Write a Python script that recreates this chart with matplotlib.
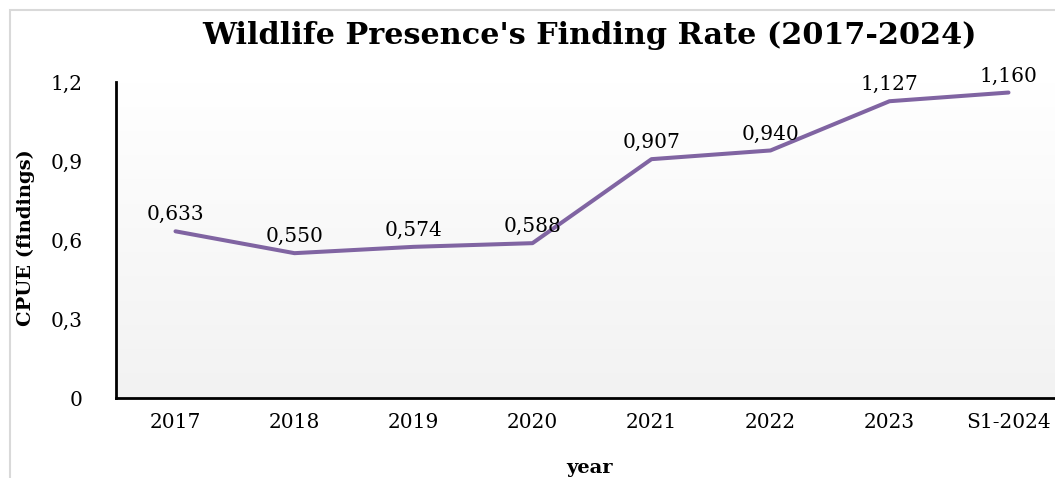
import matplotlib
matplotlib.use("Agg")
import matplotlib.pyplot as plt
import numpy as np
from matplotlib.patches import Rectangle

# 数据
years = ["2017", "2018", "2019", "2020", "2021", "2022", "2023", "S1-2024"]
cpue = [0.633, 0.550, 0.574, 0.588, 0.907, 0.940, 1.127, 1.160]
y_ticks = [0, 0.3, 0.6, 0.9, 1.2]
y_tick_labels = ["0", "0,3", "0,6", "0,9", "1,2"]

plt.rcParams['font.family'] = ['DejaVu Serif']

W, H = 1055, 478
fig = plt.figure(figsize=(W / 100, H / 100), dpi=100)

# 外框（浅灰色）
fig.patches.append(Rectangle((9.5 / W, -0.1), 1.2, 1 - 10.5 / H + 0.1,
                             transform=fig.transFigure, fill=False,
                             edgecolor='#d9d9d9', linewidth=1.5))

# 绘图区位置（右侧超出画布）
left, bottom = 116 / W, (H - 398) / H
width, height = 8 * 119 / W, (398 - 82) / H
ax = fig.add_axes([left, bottom, width, height])

x = np.arange(len(years))
ax.set_xlim(-0.5, len(years) - 0.5)
ax.set_ylim(0, 1.2)

# 渐变背景
grad = np.linspace(0, 1, 256).reshape(-1, 1)
ax.imshow(grad, cmap=matplotlib.colors.LinearSegmentedColormap.from_list(
    'g', ['#f2f2f2', '#ffffff']), aspect='auto', origin='lower',
    extent=(-0.5, len(years) - 0.5, 0, 1.2), zorder=0)

ax.plot(x, cpue, color='#8064A2', linewidth=2.9, solid_capstyle='round', zorder=3)

for xi, v in zip(x, cpue):
    ax.annotate(f"{v:.3f}".replace('.', ','), (xi, v), xytext=(0, 5),
                textcoords='offset points', ha='center', va='bottom',
                fontsize=14.5, zorder=4)

ax.set_xticks(x)
ax.set_xticklabels(years, fontsize=14.5)
ax.set_yticks(y_ticks)
ax.set_yticklabels(y_tick_labels, fontsize=14.5)
ax.tick_params(axis='both', length=0)
ax.tick_params(axis='x', pad=11)
ax.tick_params(axis='y', pad=24)

for s in ['top', 'right']:
    ax.spines[s].set_visible(False)
for s in ['left', 'bottom']:
    ax.spines[s].set_linewidth(2)
    ax.spines[s].set_color('black')

fig.text(590 / W, 1 - 35 / H, "Wildlife Presence's Finding Rate (2017-2024)",
         ha='center', va='center', fontsize=21.8, fontweight='bold')
fig.text(26 / W, 1 - 238 / H, "CPUE (findings)", rotation=90, ha='center',
         va='center', fontsize=14, fontweight='bold')
fig.text(590 / W, 1 - 468 / H, "year", ha='center', va='center',
         fontsize=14, fontweight='bold')

fig.savefig("out.png", dpi=100)
